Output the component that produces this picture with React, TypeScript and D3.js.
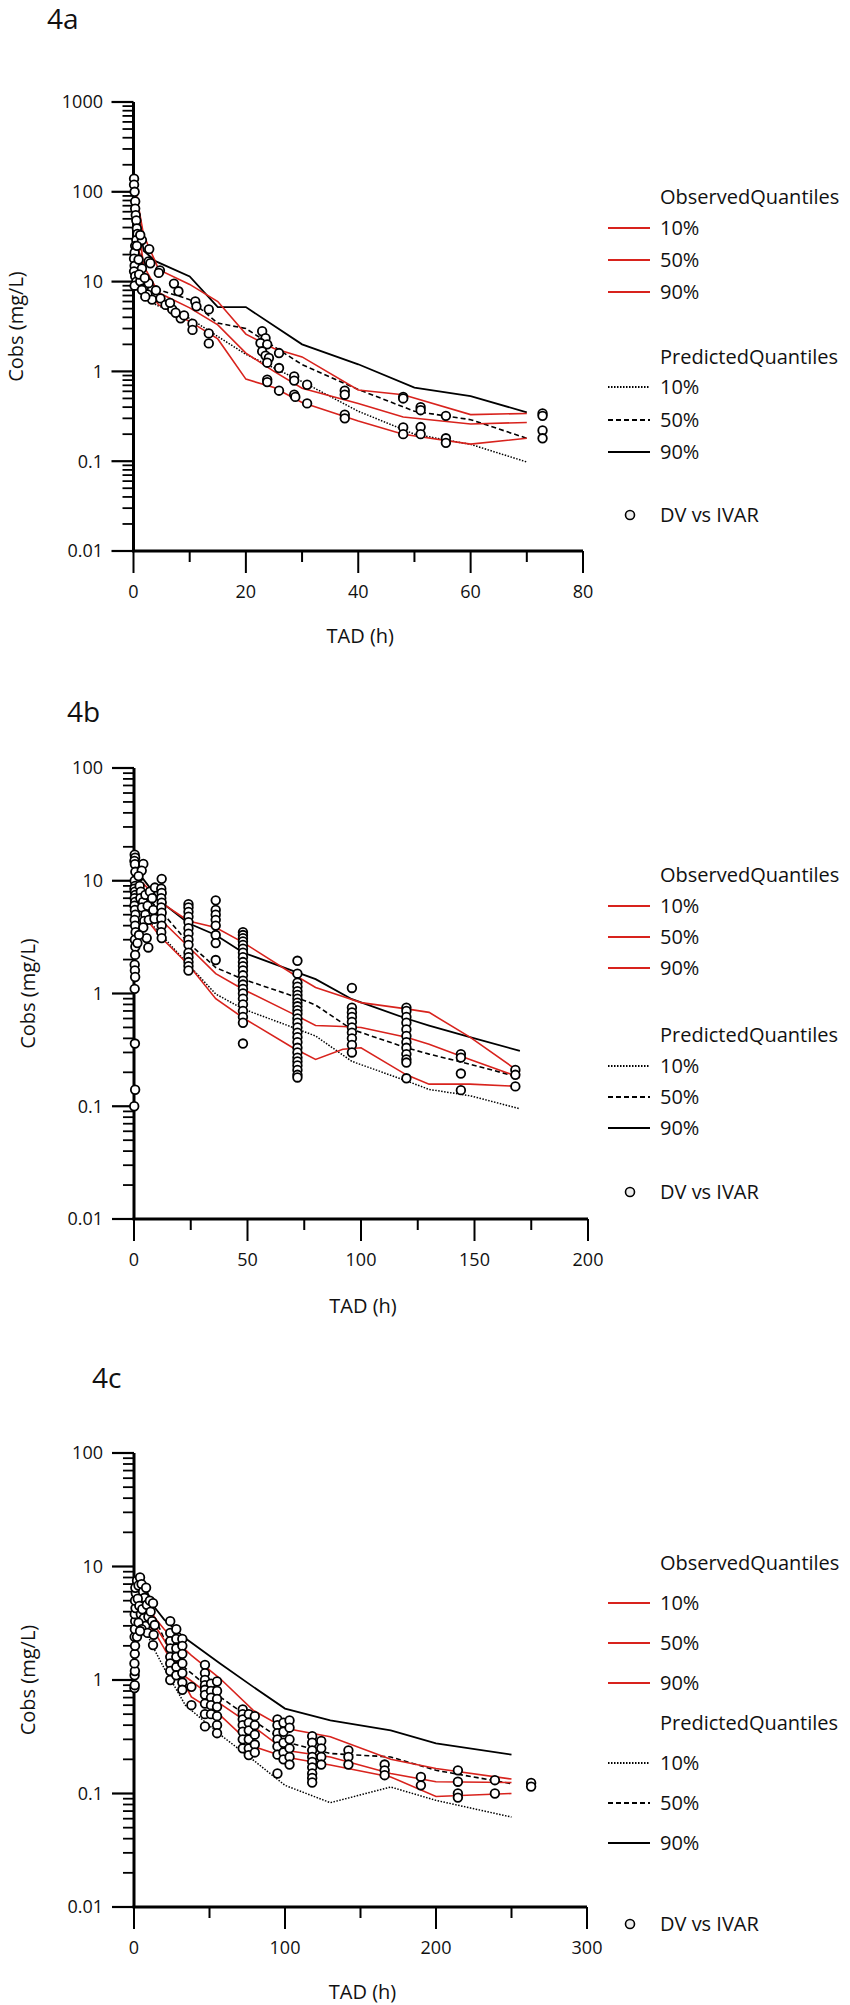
import React from 'react';
import * as d3 from 'd3';

// ---------- 4a ----------
const predTimeA = [0.3, 1.8, 4, 10, 15, 20, 30, 40, 50, 60, 70];
const pred90A = [105, 22, 16.8, 11.4, 5.2, 5.2, 2.0, 1.2, 0.66, 0.53, 0.35];
const pred50A = [70, 12, 8.3, 6.3, 3.45, 3.0, 1.19, 0.63, 0.36, 0.29, 0.18];
const pred10A = [40, 8, 5.5, 3.9, 2.45, 1.55, 0.77, 0.36, 0.2, 0.154, 0.098];

const obsTimeA = [0.3, 1.8, 4.5, 10, 15, 20, 25, 30, 40, 48, 60, 70];
const obs90A = [110, 33, 13.6, 9.3, 6.0, 2.6, 1.8, 1.45, 0.62, 0.55, 0.33, 0.34];
const obs50A = [80, 15, 7.5, 5.1, 3.3, 1.6, 1.0, 0.65, 0.44, 0.31, 0.26, 0.27];
const obs10A = [50, 9, 5.5, 3.6, 2.3, 0.82, 0.66, 0.45, 0.28, 0.2, 0.155, 0.18];

const dvA: [number, number][] = [
  [0.1, 140], [0.1, 120], [0.2, 100], [0.3, 78], [0.3, 65], [0.4, 55], [0.5, 48], [0.6, 39],
  [0.7, 34], [0.5, 29], [0.3, 25], [0.2, 21], [0.1, 18], [0.2, 15], [0.1, 13], [0.3, 11.5],
  [0.5, 10], [0.2, 9], [1.5, 29], [2.8, 23], [0.9, 17.6], [2.7, 16.8], [1.5, 14], [4.7, 13.3],
  [4.5, 12.5], [1.2, 10.1], [1.8, 8.4], [2.5, 7.2], [3.3, 6.3], [4.8, 6.5], [5.7, 5.5],
  [6.9, 4.9], [8.4, 3.9], [7.2, 9.5], [8, 7.8], [10.5, 3.4], [10.5, 2.9], [11, 6], [11.2, 5.3],
  [13.4, 4.9], [13.4, 2.65], [13.4, 2.05], [4, 8], [3, 16], [2.7, 9.6], [1.5, 8.1], [2.1, 6.8],
  [6.5, 5.8], [7.5, 4.5], [9, 4.2], [1, 12], [2, 11], [0.6, 25], [1.2, 33],
  [22.9, 2.8], [23.5, 2.35], [22.6, 2.07], [23.8, 2.0], [22.9, 1.67], [23.5, 1.5], [24.1, 1.41],
  [23.8, 1.25], [25.9, 1.6], [25.9, 1.09], [23.8, 0.81], [23.8, 0.76], [25.9, 0.61],
  [28.6, 0.88], [28.6, 0.79], [28.6, 0.55], [28.8, 0.52], [30.9, 0.71], [30.9, 0.44],
  [37.6, 0.61], [37.6, 0.55], [37.6, 0.33], [37.6, 0.3],
  [48, 0.52], [48, 0.5], [48, 0.238], [48, 0.2],
  [51.1, 0.4], [51.1, 0.37], [51.1, 0.24], [51.1, 0.2],
  [55.6, 0.32], [55.6, 0.18], [55.6, 0.16],
  [72.8, 0.34], [72.8, 0.32], [72.8, 0.22], [72.8, 0.18],
];

// ---------- 4b ----------
const predTimeB = [0.5, 4, 11.5, 24, 36, 48, 70, 80, 96, 120, 130, 148, 170];
const pred90B = [9, 10.4, 6.6, 4.2, 3.3, 2.31, 1.59, 1.34, 0.89, 0.6, 0.52, 0.41, 0.31];
const pred50B = [6, 7.5, 5.5, 2.8, 1.7, 1.34, 0.95, 0.79, 0.48, 0.33, 0.29, 0.236, 0.18];
const pred10B = [3, 5, 3.4, 1.8, 0.99, 0.73, 0.5, 0.42, 0.25, 0.168, 0.141, 0.124, 0.095];

const obsTimeB = [0.5, 4, 11.5, 24, 36, 48, 70, 80, 92, 100, 120, 130, 148, 170];
const obs90B = [10, 9.5, 6.5, 4.4, 3.85, 2.84, 1.49, 1.13, 0.94, 0.83, 0.73, 0.68, 0.41, 0.2];
const obs50B = [7, 7.5, 4.57, 2.6, 1.5, 1.09, 0.66, 0.52, 0.51, 0.5, 0.41, 0.355, 0.26, 0.18];
const obs10B = [3, 5, 3.2, 1.8, 0.9, 0.61, 0.33, 0.26, 0.32, 0.33, 0.19, 0.157, 0.157, 0.15];

const dvB: [number, number][] = [
  [0.3, 17], [0.5, 16], [0.2, 15], [0.4, 14], [0.6, 12], [0.3, 10], [0.5, 9], [0.2, 8.5],
  [0.4, 8], [0.6, 7.5], [0.3, 7], [0.5, 6.5], [0.2, 6], [0.4, 5.5], [0.6, 5], [0.3, 4.5],
  [0.5, 4], [0.7, 3.5], [0.4, 3], [0.6, 2.6], [0.5, 2.2], [0.3, 1.8], [0.4, 1.6], [0.5, 1.4],
  [0.3, 1.1], [0.4, 0.36], [0.5, 0.14], [0.1, 0.1],
  [4.1, 14.1], [3.4, 12.3], [2, 11], [2.5, 9], [3, 8], [2.8, 7], [4, 6.5], [3.5, 5.8], [5, 5],
  [4.5, 4.4], [4.1, 3.85], [5.6, 3.1], [6.3, 2.56], [5, 7.5], [6, 6], [7, 8], [8, 7],
  [6.5, 4.5], [9.2, 8.7], [8.5, 5.5], [9, 4.6], [2.2, 3.3], [1.5, 2.8],
  [12.2, 10.4], [12, 8.5], [12.2, 7.8], [12, 7], [12.2, 6.4], [12, 5.8], [12.2, 5.2],
  [12, 4.6], [12.2, 4], [12, 3.5], [12.2, 3.1],
  [24, 6.2], [24, 5.8], [24, 5.3], [24, 4.8], [24, 4.3], [24, 3.8], [24, 3.4], [24, 3.0],
  [24, 2.7], [24, 2.3], [24, 2.1], [24, 1.9], [24, 1.75], [24, 1.6],
  [36, 6.7], [36, 5.5], [36, 5.0], [36, 4.5], [36, 4.0], [36, 3.3], [36, 2.8], [36, 1.98],
  [48, 3.5], [48, 3.3], [48, 3.1], [48, 2.9], [48, 2.7], [48, 2.5], [48, 2.3], [48, 2.1],
  [48, 1.9], [48, 1.75], [48, 1.6], [48, 1.45], [48, 1.3], [48, 1.2], [48, 1.1], [48, 1.0],
  [48, 0.9], [48, 0.8], [48, 0.7], [48, 0.62], [48, 0.55], [48, 0.36],
  [72, 1.95], [72, 1.5], [72, 1.25], [72, 1.15], [72, 1.05], [72, 0.97], [72, 0.9], [72, 0.83],
  [72, 0.77], [72, 0.71], [72, 0.66], [72, 0.6], [72, 0.55], [72, 0.5], [72, 0.45], [72, 0.41],
  [72, 0.37], [72, 0.33], [72, 0.3], [72, 0.27], [72, 0.25], [72, 0.23], [72, 0.21], [72, 0.19],
  [72, 0.18],
  [96, 1.12], [96, 0.75], [96, 0.68], [96, 0.62], [96, 0.56], [96, 0.5], [96, 0.45], [96, 0.4],
  [96, 0.35], [96, 0.3],
  [120, 0.75], [120, 0.7], [120, 0.62], [120, 0.55], [120, 0.48], [120, 0.42], [120, 0.37],
  [120, 0.33], [120, 0.29], [120, 0.26], [120, 0.244], [120, 0.177],
  [144, 0.29], [144, 0.27], [144, 0.195], [144, 0.139],
  [168, 0.21], [168, 0.19], [168, 0.15],
];

// ---------- 4c ----------
const predTimeC = [1, 6, 14, 20, 34, 57, 79, 100, 130, 170, 200, 250];
const pred90C = [5, 7, 4.3, 3.4, 2.33, 1.4, 0.87, 0.56, 0.44, 0.36, 0.276, 0.22];
const pred50C = [3.5, 5, 3.5, 2.3, 1.27, 0.71, 0.44, 0.285, 0.225, 0.21, 0.16, 0.122];
const pred10C = [2, 3, 1.8, 1.27, 0.6, 0.33, 0.197, 0.118, 0.083, 0.114, 0.087, 0.062];

const obsTimeC = [1, 6, 14, 20, 34, 38, 57, 79, 100, 130, 170, 200, 250];
const obs90C = [5, 5.5, 3.5, 2.8, 1.84, 1.65, 1.03, 0.54, 0.375, 0.316, 0.2, 0.166, 0.134];
const obs50C = [4, 4.5, 3, 2.25, 1.07, 0.98, 0.62, 0.39, 0.24, 0.21, 0.15, 0.127, 0.125];
const obs10C = [2.5, 3.5, 2.6, 1.9, 0.89, 0.71, 0.49, 0.26, 0.21, 0.178, 0.14, 0.094, 0.1];

const dvC: [number, number][] = [
  [0.3, 0.85], [0.5, 0.9], [0.4, 1.1], [0.6, 1.2], [0.3, 1.4], [0.5, 1.7], [0.7, 2], [0.4, 2.4],
  [0.6, 2.8], [0.8, 3.3], [0.5, 3.8], [1, 4.3], [0.7, 5], [1.2, 5.8], [0.9, 6.5],
  [2, 7.5], [3, 6.8], [4, 8], [5, 7], [6, 6], [7, 5.3], [8, 6.5], [2.5, 5.2], [3.5, 4.5],
  [4.5, 3.8], [5.5, 4.2], [6.5, 3.5], [7.5, 3], [8.5, 4.6], [9.5, 3.6], [10.5, 5], [11, 4],
  [12, 3.3], [3, 3.2], [5, 2.8], [9, 2.6], [12.6, 4.75], [13.7, 3.05], [12.6, 2.03], [13, 2.5],
  [2, 2.4], [4, 2.7],
  [24, 3.3], [24, 2.6], [24, 2.2], [24, 1.9], [24, 1.6], [24, 1.4], [24, 1.2], [24, 1.0],
  [28, 2.8], [28, 2.3], [28, 1.9], [28, 1.6], [28, 1.3], [28, 1.1],
  [32, 2.3], [32, 2.0], [32, 1.7], [32, 1.4], [32, 1.15], [32, 0.95], [32, 0.82],
  [38, 0.87], [38, 0.6],
  [47, 1.36], [47, 1.15], [47, 1.0], [47, 0.9], [47, 0.82], [47, 0.74], [47, 0.62], [47, 0.5],
  [47, 0.39], [51, 0.93], [51, 0.8], [51, 0.7], [51, 0.6], [51, 0.5],
  [55, 0.97], [55, 0.8], [55, 0.68], [55, 0.58], [55, 0.48], [55, 0.4], [55, 0.34],
  [72, 0.55], [72, 0.5], [72, 0.45], [72, 0.4], [72, 0.35], [72, 0.3], [72, 0.25],
  [76, 0.5], [76, 0.42], [76, 0.36], [76, 0.3], [76, 0.25], [76, 0.218],
  [80, 0.48], [80, 0.4], [80, 0.33], [80, 0.27], [80, 0.23],
  [95, 0.45], [95, 0.4], [95, 0.34], [95, 0.3], [95, 0.26], [95, 0.22], [95, 0.15],
  [99, 0.42], [99, 0.35], [99, 0.28], [99, 0.23], [99, 0.2],
  [103, 0.44], [103, 0.38], [103, 0.3], [103, 0.25], [103, 0.21], [103, 0.18],
  [118, 0.32], [118, 0.28], [118, 0.24], [118, 0.21], [118, 0.19], [118, 0.17], [118, 0.15],
  [118, 0.137], [118, 0.125], [124, 0.29], [124, 0.25], [124, 0.21], [124, 0.18],
  [142, 0.24], [142, 0.21], [142, 0.18],
  [166, 0.18], [166, 0.16], [166, 0.145],
  [190, 0.14], [190, 0.118],
  [214.5, 0.16], [214.5, 0.127], [214.5, 0.1], [214.5, 0.092],
  [239, 0.131], [239, 0.1],
  [263, 0.124], [263, 0.115],
];

const legendLabels = ['ObservedQuantiles', '10%', '50%', '90%', 'PredictedQuantiles', '10%', '50%', '90%', 'DV vs IVAR'];

const FONT = '"Open Sans", "Noto Sans", sans-serif';
const RED = '#d8231d';

const panels = [
  {
    title: '4a', titleX: 47, titleY: 29,
    xMax: 80, xStep: 10, yMax: 1000,
    left: 133.5, right: 583, top: 102, bottom: 551,
    legendY: [197, 228, 260, 292, 357, 387, 420, 452, 515],
    yLabelX: 16, xLabelY: 643,
    predT: predTimeA, p10: pred10A, p50: pred50A, p90: pred90A,
    obsT: obsTimeA, o10: obs10A, o50: obs50A, o90: obs90A, dv: dvA,
  },
  {
    title: '4b', titleX: 67, titleY: 722,
    xMax: 200, xStep: 25, yMax: 100,
    left: 134, right: 588, top: 768, bottom: 1219,
    legendY: [875, 906, 937, 968, 1035, 1066, 1097, 1128, 1192],
    yLabelX: 28, xLabelY: 1313,
    predT: predTimeB, p10: pred10B, p50: pred50B, p90: pred90B,
    obsT: obsTimeB, o10: obs10B, o50: obs50B, o90: obs90B, dv: dvB,
  },
  {
    title: '4c', titleX: 92, titleY: 1388,
    xMax: 300, xStep: 50, yMax: 100,
    left: 134, right: 587, top: 1453, bottom: 1907,
    legendY: [1563, 1603, 1643, 1683, 1723, 1763, 1803, 1843, 1924],
    yLabelX: 28, xLabelY: 1999,
    predT: predTimeC, p10: pred10C, p50: pred50C, p90: pred90C,
    obsT: obsTimeC, o10: obs10C, o50: obs50C, o90: obs90C, dv: dvC,
  },
];

const Panel = ({ cfg }) => {
  const x = d3.scaleLinear().domain([0, cfg.xMax]).range([cfg.left, cfg.right]);
  const y = d3.scaleLog().domain([0.01, cfg.yMax]).range([cfg.bottom, cfg.top]);

  const path = (ts: number[], vs: number[]) =>
    d3.line<number>().x((_, i) => x(ts[i])).y(d => y(d))(vs) || '';

  const yTicks = y.ticks();
  const xTicks = d3.range(0, cfg.xMax + 0.001, cfg.xStep);
  const isMajor = (v: number) => Math.abs(Math.log10(v) - Math.round(Math.log10(v))) < 1e-6;

  const lx1 = 608, lx2 = 650, tx = 660;
  const ly = cfg.legendY;
  const lineStyles = [
    null,
    { stroke: RED, dash: null },
    { stroke: RED, dash: null },
    { stroke: RED, dash: null },
    null,
    { stroke: '#000', dash: '1.5,1.5' },
    { stroke: '#000', dash: '5,3' },
    { stroke: '#000', dash: null },
  ];

  return (
    <g fontFamily={FONT}>
      <text x={cfg.titleX} y={cfg.titleY} fontSize={28} fill="#111">{cfg.title}</text>

      {/* y axis */}
      <line x1={cfg.left} x2={cfg.left} y1={cfg.top} y2={cfg.bottom} stroke="#000" strokeWidth={3} />
      {yTicks.map((t, i) => (
        <line key={'yt' + i} x1={cfg.left - (isMajor(t) ? 22 : 11)} x2={cfg.left} y1={y(t)} y2={y(t)}
          stroke="#000" strokeWidth={isMajor(t) ? 2.2 : 1.8} />
      ))}
      {yTicks.filter(isMajor).map((t, i) => (
        <text key={'yl' + i} x={103} y={y(t)} dy="0.36em" textAnchor="end" fontSize={18} fill="#111">
          {d3.format('~g')(t)}
        </text>
      ))}

      {/* x axis */}
      <line x1={cfg.left - 1.5} x2={cfg.right} y1={cfg.bottom} y2={cfg.bottom} stroke="#000" strokeWidth={3} />
      {xTicks.map((t, i) => (
        <line key={'xt' + i} x1={x(t)} x2={x(t)} y1={cfg.bottom} y2={cfg.bottom + (i % 2 === 0 ? 22 : 11)}
          stroke="#000" strokeWidth={2} />
      ))}
      {xTicks.filter((_, i) => i % 2 === 0).map((t, i) => (
        <text key={'xl' + i} x={x(t)} y={cfg.bottom + 47} textAnchor="middle" fontSize={18} fill="#111">{t}</text>
      ))}

      <text x={(cfg.left + cfg.right) / 2 + 2} y={cfg.xLabelY} textAnchor="middle" fontSize={20} fill="#111">TAD (h)</text>
      <text transform={`translate(${cfg.yLabelX},${(cfg.top + cfg.bottom) / 2}) rotate(-90)`} textAnchor="middle"
        dy="0.35em" fontSize={20} fill="#111">Cobs (mg/L)</text>

      {/* quantile lines */}
      <path d={path(cfg.predT, cfg.p10)} fill="none" stroke="#000" strokeWidth={1.5} strokeDasharray="1.5,1.5" />
      <path d={path(cfg.predT, cfg.p50)} fill="none" stroke="#000" strokeWidth={1.6} strokeDasharray="5,3" />
      <path d={path(cfg.predT, cfg.p90)} fill="none" stroke="#000" strokeWidth={1.8} />
      <path d={path(cfg.obsT, cfg.o10)} fill="none" stroke={RED} strokeWidth={1.6} />
      <path d={path(cfg.obsT, cfg.o50)} fill="none" stroke={RED} strokeWidth={1.6} />
      <path d={path(cfg.obsT, cfg.o90)} fill="none" stroke={RED} strokeWidth={1.6} />

      {/* observations */}
      {cfg.dv.map(([t, v], i) => (
        <circle key={'dv' + i} cx={x(t)} cy={y(v)} r={4.3} fill="#fff" stroke="#000" strokeWidth={1.8} />
      ))}

      {/* legend */}
      {legendLabels.map((lab, i) => (
        <g key={'lg' + i}>
          {lineStyles[i] && (
            <line x1={lx1} x2={lx2} y1={ly[i]} y2={ly[i]} stroke={lineStyles[i].stroke}
              strokeWidth={1.8} strokeDasharray={lineStyles[i].dash || undefined} />
          )}
          {i === 8 && <circle cx={630} cy={ly[i]} r={4.5} fill="#eee" stroke="#000" strokeWidth={1.6} />}
          <text x={tx} y={ly[i]} dy="0.35em" fontSize={20} fill="#111">{lab}</text>
        </g>
      ))}
    </g>
  );
};

export default function App() {
  return (
    <svg width={850} height={2005} style={{ position: 'absolute', left: 0, top: 0, background: '#fff' }}>
      <rect width={850} height={2005} fill="#fff" />
      {panels.map(p => <Panel key={p.title} cfg={p} />)}
    </svg>
  );
}
